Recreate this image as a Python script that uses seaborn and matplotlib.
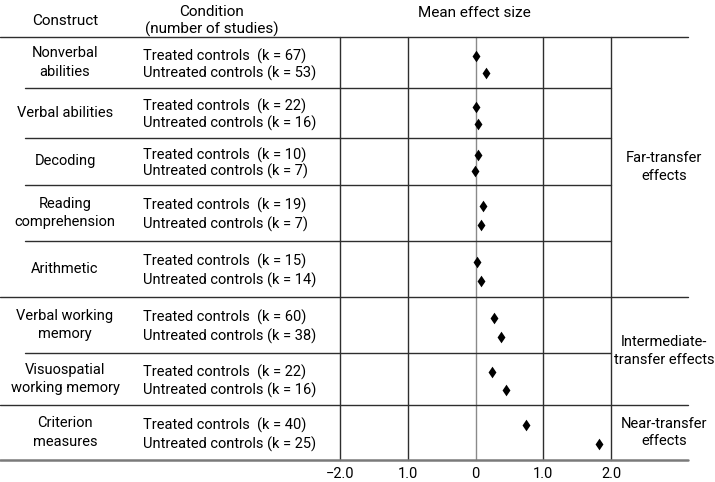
import matplotlib
matplotlib.use("Agg")
import matplotlib.pyplot as plt
import seaborn as sns
import pandas as pd
import numpy as np

# -----------------------------
# Data
# -----------------------------
constructs = [
    "Nonverbal\nabilities", "Verbal abilities", "Decoding", "Reading\ncomprehension",
    "Arithmetic", "Verbal working\nmemory", "Visuospatial\nworking memory",
    "Criterion\nmeasures",
]
k_treated = [67, 22, 10, 19, 15, 60, 22, 40]
k_untreated = [53, 16, 7, 7, 14, 38, 16, 25]
effect_treated = [0.01, 0.01, 0.04, 0.11, 0.02, 0.27, 0.24, 0.75]
effect_untreated = [0.16, 0.04, -0.01, 0.08, 0.08, 0.38, 0.45, 1.83]
transfer_labels = ["Far-transfer\neffects", "Intermediate-\ntransfer effects", "Near-transfer\neffects"]
transfer_groups = [[0, 1, 2, 3, 4], [5, 6], [7]]
tick_values = [-2, -1, 0, 1, 2]
tick_labels = ["\u22122.0", "1.0", "0", "1.0", "2.0"]

# -----------------------------
# Layout (pixels of the 715x482 canvas)
# -----------------------------
W, H = 715, 482
edges = [37, 88, 138, 185, 241, 297, 353, 405, 460]
ax_left, ax_right = 340, 611

sns.set_theme(style="white")
plt.rcParams["font.family"] = ["Roboto", "DejaVu Sans"]
plt.rcParams["text.color"] = "black"
plt.rcParams["xtick.color"] = "black"
FS = 10.5

fig = plt.figure(figsize=(W / 100, H / 100), dpi=100)
ax = fig.add_axes([ax_left / W, (H - edges[-1]) / H,
                   (ax_right - ax_left) / W, (edges[-1] - edges[0]) / H])

def frac(px):
    return (px - ax_left) / (ax_right - ax_left)

# row positions inside each construct block
rows = []
for i in range(len(constructs)):
    top, bot = edges[i], edges[i + 1]
    h = bot - top
    rows.append((top + 0.37 * h, top + 0.71 * h))

df = pd.DataFrame({
    "effect": effect_treated + effect_untreated,
    "row": [r[0] for r in rows] + [r[1] for r in rows],
})

# grid
for v in tick_values:
    ax.axvline(v, color="#8a8a8a" if v == 0 else "#2e2e2e", lw=1.0, zorder=1, clip_on=False)

major = {0, 5, 7}
for i, e in enumerate(edges):
    if i == len(edges) - 1:
        ax.axhline(e, xmin=frac(0), xmax=frac(688), color="#7a7a7a", lw=1.8, clip_on=False)
    elif i in major:
        ax.axhline(e, xmin=frac(0), xmax=frac(688), color="#2e2e2e", lw=1.0, clip_on=False)
    else:
        ax.axhline(e, xmin=frac(25), xmax=frac(611), color="#2e2e2e", lw=1.0, clip_on=False)

diamond = [(0, 1), (0.68, 0), (0, -1), (-0.68, 0), (0, 1)]
sns.scatterplot(data=df, x="effect", y="row", marker=diamond, s=70,
                color="black", edgecolor="black", linewidth=0, ax=ax, zorder=3)

ax.set_xlim(-2, 2)
ax.set_ylim(edges[-1], edges[0])
ax.set_xticks(tick_values)
ax.set_xticklabels(tick_labels, fontsize=FS)
ax.tick_params(axis="x", length=0, pad=5)
ax.set_yticks([])
ax.set_xlabel("")
ax.set_ylabel("")
for s in ax.spines.values():
    s.set_visible(False)

trans = ax.get_yaxis_transform()

# construct and condition text
for i, name in enumerate(constructs):
    ymid = (edges[i] + edges[i + 1]) / 2
    ax.text(frac(65), ymid, name, transform=trans, ha="center", va="center",
            fontsize=FS, linespacing=1.45)
    ax.text(frac(143), rows[i][0], f"Treated controls  (k = {k_treated[i]})",
            transform=trans, ha="left", va="center", fontsize=FS)
    ax.text(frac(143), rows[i][1], f"Untreated controls (k = {k_untreated[i]})",
            transform=trans, ha="left", va="center", fontsize=FS)

# transfer group labels
for lab, grp in zip(transfer_labels, transfer_groups):
    ymid = (edges[grp[0]] + edges[grp[-1] + 1]) / 2
    ax.text(frac(664), ymid, lab, transform=trans, ha="center", va="center",
            fontsize=FS, linespacing=1.35)

# headers
fig.text(65 / W, 1 - 21 / H, "Construct", ha="center", va="center", fontsize=FS + 0.5)
fig.text(212 / W, 1 - 21 / H, "Condition\n(number of studies)", ha="center",
         va="center", fontsize=FS + 0.5, linespacing=1.2)
fig.text(474 / W, 1 - 13 / H, "Mean effect size", ha="center", va="center", fontsize=FS + 0.5)

fig.savefig("out.png", dpi=100, facecolor="white")
